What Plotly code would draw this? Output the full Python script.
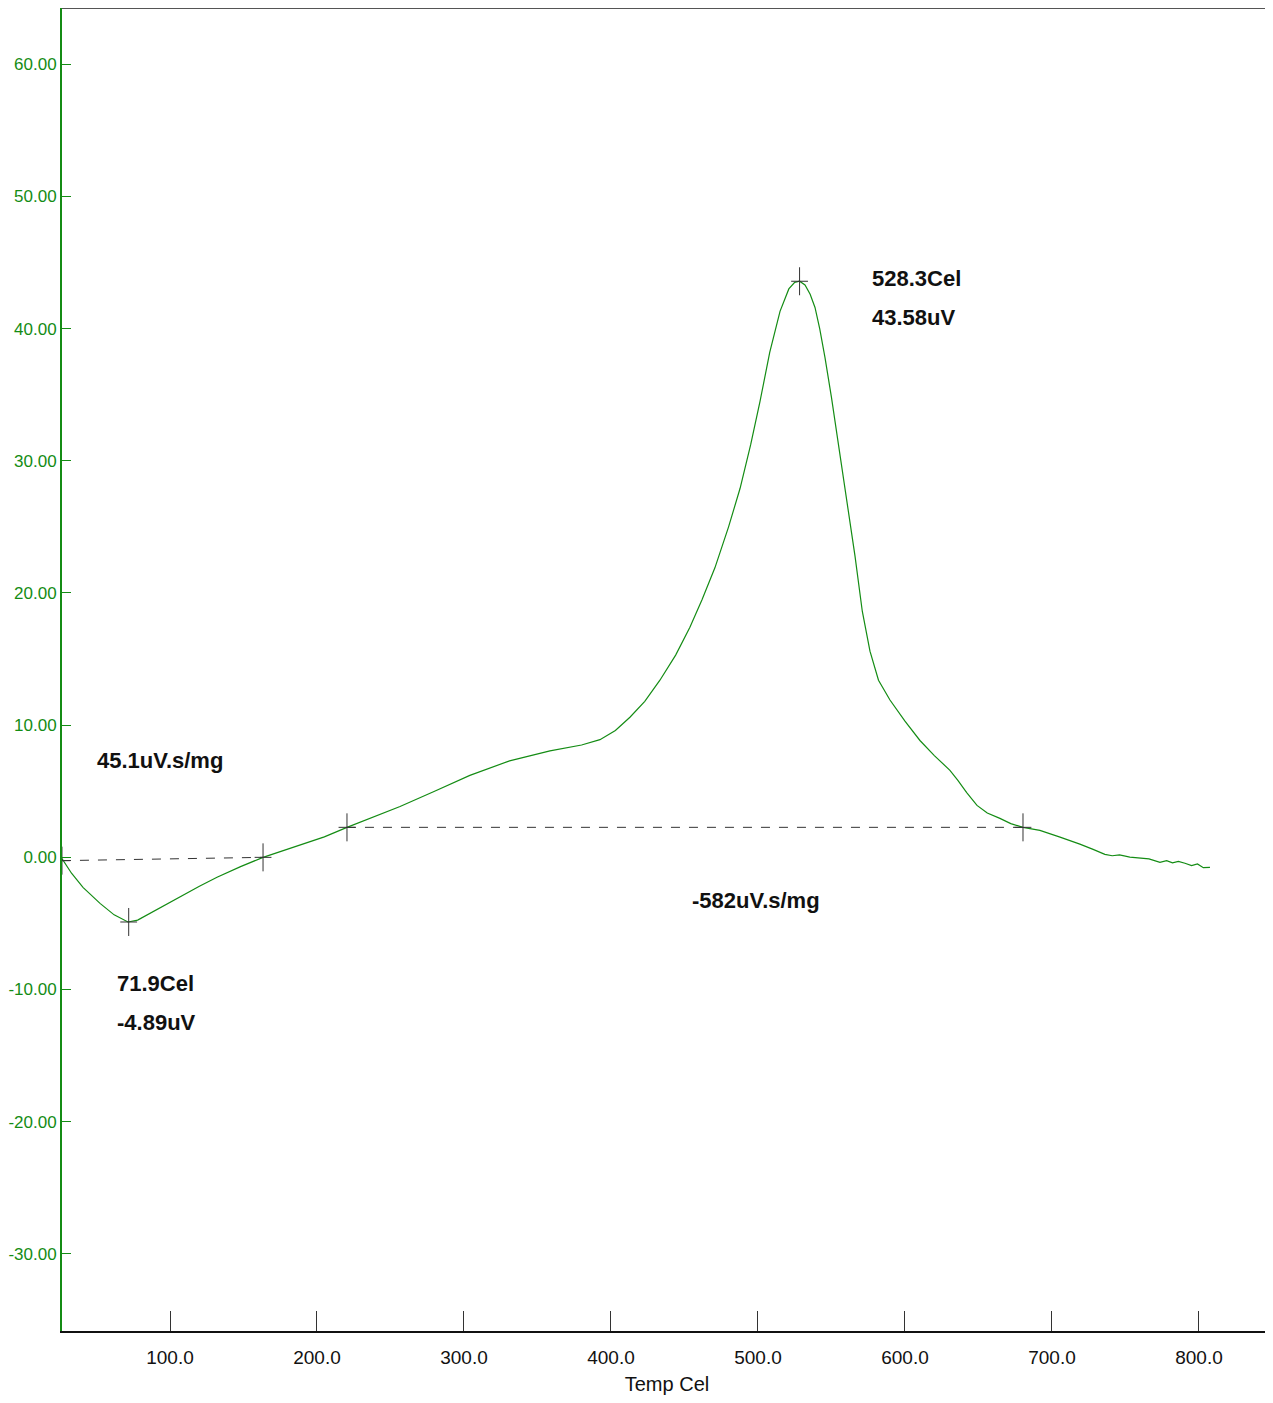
import plotly.graph_objects as go

# DTA curve (temperature in Cel, signal in uV)
temp = [26.5, 28.6, 33.0, 40.8, 52.4, 62.0, 71.4, 78.0, 86.4, 97.0, 108.8, 120.0, 132.0, 148.0, 163.3,
        175.0, 188.4, 205.0, 220.4, 238.0, 256.5, 280.0, 304.0, 331.0, 358.5, 380.0, 392.5, 403.0,
        412.9, 423.0, 433.3, 444.0, 453.7, 462.0, 470.7, 480.0, 487.8, 495.0, 501.4, 508.0, 515.0,
        521.0, 525.0, 528.3, 532.0, 535.5, 538.8, 542.0, 545.6, 550.0, 555.8, 561.0, 566.0, 571.0,
        576.2, 582.0, 589.8, 600.0, 610.2, 620.0, 630.6, 636.0, 642.0, 649.0, 656.0, 664.6, 672.0,
        680.3, 691.8, 705.0, 712.0, 719.0, 728.0, 736.0, 741.0, 746.0, 753.0, 760.0, 766.0, 773.5,
        778.0, 782.0, 786.0, 790.5, 795.0, 799.0, 803.0, 807.5]
signal = [-0.10, -0.45, -1.20, -2.27, -3.48, -4.35, -4.89, -4.75, -4.23, -3.55, -2.87, -2.18, -1.51, -0.70, 0.00,
          0.45, 0.91, 1.55, 2.27, 3.05, 3.85, 5.00, 6.20, 7.30, 8.05, 8.50, 8.90, 9.60,
          10.60, 11.80, 13.40, 15.30, 17.40, 19.50, 21.90, 25.00, 27.90, 31.20, 34.50, 38.20, 41.30,
          43.00, 43.50, 43.58, 43.30, 42.60, 41.60, 40.00, 37.80, 34.80, 30.50, 26.60, 22.80, 18.60,
          15.60, 13.40, 11.90, 10.30, 8.84, 7.70, 6.58, 5.82, 4.90, 3.93, 3.35, 2.95, 2.55,
          2.27, 2.04, 1.55, 1.28, 1.00, 0.60, 0.23, 0.12, 0.18, 0.02, -0.05, -0.12, -0.38,
          -0.25, -0.42, -0.30, -0.45, -0.62, -0.50, -0.78, -0.76]

# integration baselines
base1_t = [26.5, 163.3]
base1_s = [-0.25, 0.00]
base2_t = [220.4, 680.3]
base2_s = [2.27, 2.27]

# marked points
mark_t = [26.5, 71.9, 163.3, 220.4, 528.3, 680.3]
mark_s = [-0.25, -4.89, 0.00, 2.27, 43.58, 2.27]

# annotation texts (one per line)
notes_t = [576.2, 576.2, 49.0, 62.6, 62.6, 453.7]
notes_s = [43.76, 40.82, 7.33, -9.52, -12.47, -3.25]
notes_txt = ["528.3Cel", "43.58uV", "45.1uV.s/mg", "71.9Cel", "-4.89uV", "-582uV.s/mg"]

x_ticks = [100, 200, 300, 400, 500, 600, 700, 800]
y_ticks = [-30, -20, -10, 0, 10, 20, 30, 40, 50, 60]

GREEN = "#148c14"
FONT = "Liberation Sans Narrow, Liberation Sans, Arial, sans-serif"

fig = go.Figure()
for bt, bs in ((base1_t, base1_s), (base2_t, base2_s)):
    fig.add_trace(go.Scatter(x=bt, y=bs, mode="lines",
                             line=dict(color="#333333", width=1, dash="dash"),
                             hoverinfo="skip", showlegend=False))
fig.add_trace(go.Scatter(x=temp, y=signal, mode="lines",
                         line=dict(color=GREEN, width=1.2), showlegend=False))
fig.add_trace(go.Scatter(x=mark_t, y=mark_s, mode="markers",
                         marker=dict(symbol="line-ns", size=20, line=dict(color="#333333", width=1)),
                         showlegend=False, hoverinfo="skip"))
fig.add_trace(go.Scatter(x=mark_t, y=mark_s, mode="markers",
                         marker=dict(symbol="line-ew", size=12, line=dict(color="#333333", width=1)),
                         showlegend=False, hoverinfo="skip"))

for t, s, txt in zip(notes_t, notes_s, notes_txt):
    fig.add_annotation(x=t, y=s, text="<b>" + txt + "</b>", showarrow=False,
                       xanchor="left", yanchor="middle", align="left",
                       font=dict(family=FONT, size=22, color="#111111"))

fig.add_shape(type="line", xref="paper", yref="paper", x0=0, x1=1, y0=1, y1=1,
              line=dict(color="#555555", width=2))

fig.update_layout(
    width=1265, height=1387,
    margin=dict(l=54, r=1, t=0, b=64),
    paper_bgcolor="white", plot_bgcolor="white",
    font=dict(family=FONT),
    xaxis=dict(range=[26.53, 849.7], tickvals=x_ticks,
               ticktext=[f"{v:.1f}" for v in x_ticks],
               ticks="inside", ticklen=20, tickwidth=1, tickcolor="#333333",
               showline=True, linecolor="#111111", linewidth=2,
               showgrid=False, zeroline=False,
               tickfont=dict(family=FONT, size=19, color="#111111"),
               ticklabelstandoff=8,
               title=dict(text="Temp Cel", font=dict(family=FONT, size=20, color="#111111"), standoff=12)),
    yaxis=dict(range=[-35.83, 64.25], tickvals=y_ticks,
               ticktext=[f"{v:.2f}" for v in y_ticks],
               ticks="inside", ticklen=9, tickwidth=1, tickcolor=GREEN,
               showline=True, linecolor=GREEN, linewidth=2,
               showgrid=False, zeroline=False,
               tickfont=dict(family=FONT, size=17, color=GREEN),
               ticklabelstandoff=0),
)

fig.write_html("out.html")
